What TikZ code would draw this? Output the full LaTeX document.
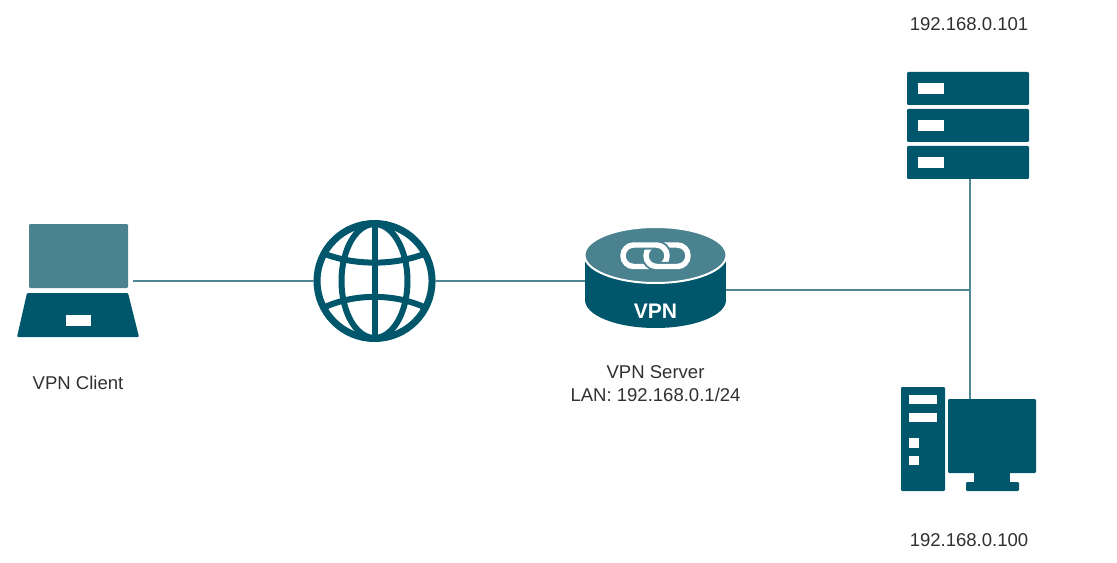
\documentclass[tikz,border=0pt]{standalone}
\usepackage{fontspec}
\setmainfont{Liberation Sans}
\usepackage{tikz}
\definecolor{vpndark}{HTML}{00566A}
\definecolor{vpnlight}{HTML}{4A8290}
\definecolor{vpnline}{HTML}{4F8794}
\definecolor{vpntext}{HTML}{303030}
\tikzset{
  icon/.style={inner sep=0pt,outer sep=0pt,minimum width=#1},
  lbl/.style={text=vpntext,align=center,font=\fontsize{13.9}{17.25}\selectfont},
  link/.style={draw=white,line width=4.1pt,rounded corners=8pt},
  linkgap/.style={draw=vpnlight,line width=7pt,rounded corners=8pt},
  hole/.style={fill=white},
  solid fill/.style={fill=vpndark,rounded corners=0.8pt},
  wire/.style={draw=vpnline,line width=1.5pt},
  grid line/.style={draw=vpndark,line width=4.5pt}
}

\begin{document}
\begin{tikzpicture}[x=0.75pt,y=-0.75pt,auto,node distance=222.4pt]
  \useasboundingbox (0,0) rectangle (1117,563);

  \node[icon=82.5pt,minimum height=84pt] (laptop) at (78,281) {};
  \node[circle,draw=vpndark,line width=5.25pt,minimum size=86.25pt,inner sep=0pt] (globe) [right of=laptop] {};
  \node[icon=105.75pt,minimum height=75pt] (vpn) [right of=globe,node distance=210.75pt] {};
  \node[icon=91.5pt,minimum height=80.25pt] (srv) at (968,125.5) {};
  \node[icon=66pt,minimum height=55.5pt] (pc) at (992,436) {};
  \coordinate (lan) at (970,290);

  % wires
  \path[wire]
        (laptop) edge (globe)
        (globe) edge (vpn)
        (vpn.east |- lan) edge (lan)
        (srv.south -| lan) edge (lan)
        (lan) edge (lan |- pc.north);

  % laptop
  \fill[fill=vpnlight,rounded corners=0.8pt] (29,224) rectangle (128,288);
  \fill[solid fill] (27,293) -- (128,293) -- (139,337) -- (17,337) -- cycle;
  \fill[hole] (66,315) rectangle (91,326);

  % globe
  \draw[grid line] (374.5,222) -- (374.5,340);
  \draw[grid line] (374.5,281) ellipse [x radius=33,y radius=57];
  \draw[grid line] (325,254) .. controls (355,265.5) and (394,265.5) .. (424,254);
  \draw[grid line] (325,307) .. controls (355,293.5) and (394,293.5) .. (424,307);

  % vpn box
  \fill[vpndark] (655.5,300) ellipse [x radius=70.5,y radius=28];
  \fill[vpndark] (585,255) rectangle (726,300);
  \draw[fill=vpnlight,draw=white,line width=1.5pt] (655.5,255) ellipse [x radius=71,y radius=28];
  \draw[link] (646,245) rectangle (688,266.5);
  \begin{scope}
    \clip (610,230) rectangle (700,255.7);
    \draw[linkgap] (623,245) rectangle (667,266.5);
  \end{scope}
  \draw[link] (623,245) rectangle (667,266.5);
  \begin{scope}
    \clip (610,255.7) rectangle (700,280);
    \draw[linkgap] (646,245) rectangle (688,266.5);
    \draw[link] (646,245) rectangle (688,266.5);
  \end{scope}
  \node[text=white,font=\fontsize{15.8}{18}\selectfont\bfseries] (vpntag) at (655.5,311) {VPN};

  % servers
  \foreach \t/\h in {72/83,109/120,146/157} {
    \fill[solid fill] (907,\t) rectangle (1029,\t+33);
    \fill[hole] (918,\h) rectangle (944,\h+11);
  }

  % desktop
  \fill[solid fill] (901,387) rectangle (945,491);
  \fill[hole] (909,395) rectangle (937,404);
  \fill[hole] (909,413) rectangle (937,422);
  \fill[hole] (909,438) rectangle (919,448);
  \fill[hole] (909,456) rectangle (919,465);
  \fill[solid fill] (948,399) rectangle (1036,473);
  \fill[vpndark] (974,473) rectangle (1010,483);
  \fill[solid fill] (966,482) rectangle (1019,491);

  % labels
  \node[lbl] (clientlbl) [below of=laptop,node distance=76.5pt] {VPN Client};
  \node[lbl] (serverlbl) [below of=vpn,node distance=77pt] {VPN Server\\LAN: 192.168.0.1/24};
  \node[lbl] (srvlbl) at (969,24) {192.168.0.101};
  \node[lbl] (pclbl) at (969,540) {192.168.0.100};
\end{tikzpicture}
\end{document}
